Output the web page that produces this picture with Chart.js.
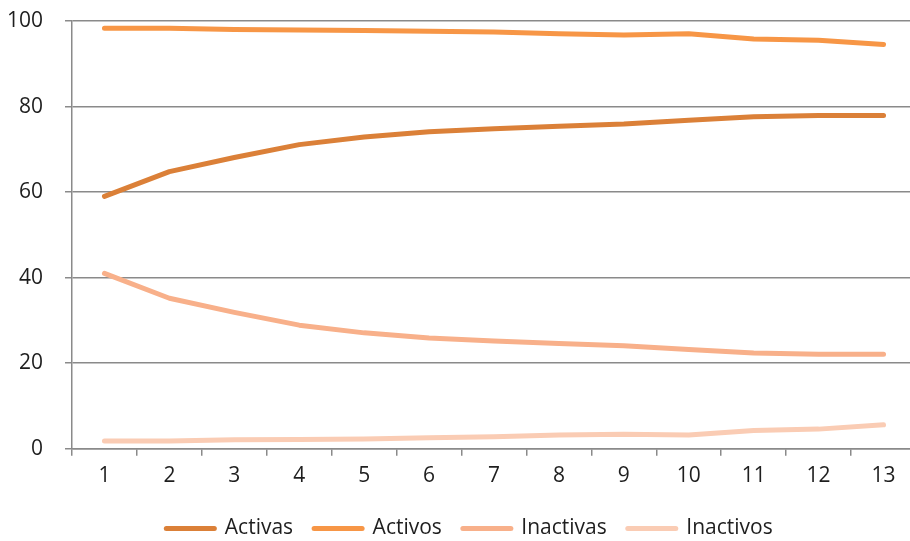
<!DOCTYPE html>
<html>
<head>
<meta charset="utf-8">
<script src="https://cdn.jsdelivr.net/npm/chart.js@4/dist/chart.umd.min.js"></script>
<style>
  html, body { margin: 0; padding: 0; background: #fff; overflow: hidden; }
  #wrap { width: 916px; height: 549px; position: relative; }
</style>
</head>
<body>
<div id="wrap"><canvas id="chart"></canvas></div>
<script>
// Periods on the horizontal axis
const periods = ['1','2','3','4','5','6','7','8','9','10','11','12','13'];

// Shares (%) per group
const activas   = [59.0, 64.8, 68.1, 71.1, 72.9, 74.1, 74.8, 75.4, 75.9, 76.8, 77.6, 77.9, 77.9];
const activos   = [98.3, 98.3, 98.0, 97.9, 97.8, 97.6, 97.4, 97.0, 96.7, 97.0, 95.8, 95.5, 94.5];
const inactivas = [41.0, 35.2, 31.9, 28.9, 27.1, 25.9, 25.2, 24.6, 24.1, 23.2, 22.4, 22.1, 22.1];
const inactivos = [1.8, 1.8, 2.1, 2.2, 2.3, 2.6, 2.8, 3.2, 3.4, 3.2, 4.3, 4.6, 5.6];

const seriesNames = ['Activas', 'Activos', 'Inactivas', 'Inactivos'];
const seriesColors = ['#DB8038', '#F79646', '#F8B08A', '#FACCB4'];
const seriesData = [activas, activos, inactivas, inactivos];

const gridColor = '#8a8a8a';
const textColor = '#1e1e1e';
const fontFamily = '"Open Sans", "DejaVu Sans", sans-serif';

// Nudge the bottom legend a little to the right of the canvas centre
const legendShift = {
  id: 'legendShift',
  afterLayout(chart) {
    if (chart.legend) {
      chart.legend.left += 8;
      chart.legend.right += 8;
    }
  }
};

new Chart(document.getElementById('chart'), {
  type: 'line',
  data: {
    labels: periods,
    datasets: seriesData.map((values, i) => ({
      label: seriesNames[i],
      data: values,
      borderColor: seriesColors[i],
      backgroundColor: seriesColors[i],
      borderWidth: 5,
      borderCapStyle: 'round',
      borderJoinStyle: 'round',
      pointRadius: 0,
      tension: 0,
      fill: false
    }))
  },
  plugins: [legendShift],
  options: {
    responsive: true,
    maintainAspectRatio: false,
    animation: false,
    layout: { padding: { top: 21, left: 7, right: 0, bottom: 0 } },
    plugins: {
      tooltip: { enabled: false },
      legend: {
        position: 'bottom',
        labels: {
          color: textColor,
          font: { family: fontFamily, size: 21 },
          usePointStyle: true,
          pointStyle: 'line',
          pointStyleWidth: 48,
          boxHeight: 5,
          padding: 21,
          generateLabels(chart) {
            return chart.data.datasets.map((ds, i) => ({
              text: ds.label,
              fillStyle: ds.borderColor,
              strokeStyle: ds.borderColor,
              lineWidth: 5,
              lineCap: 'round',
              pointStyle: 'line',
              hidden: false,
              datasetIndex: i,
              fontColor: textColor
            }));
          }
        }
      }
    },
    scales: {
      x: {
        offset: true,
        grid: {
          offset: true,
          drawOnChartArea: false,
          drawTicks: true,
          tickLength: 7,
          color: gridColor,
          lineWidth: 1.5
        },
        border: { display: true, color: gridColor, width: 1.5 },
        ticks: {
          color: textColor,
          font: { family: fontFamily, size: 21 },
          padding: 8,
          maxRotation: 0,
          autoSkip: false
        }
      },
      y: {
        min: 0,
        max: 100,
        afterFit(scale) {
          scale.width = 65;
          scale.paddingTop = 13;
          scale.paddingBottom = 13;
        },
        grid: {
          color: gridColor,
          lineWidth: 1.5,
          drawTicks: true,
          tickLength: 7
        },
        border: { display: true, color: gridColor, width: 1.5 },
        ticks: {
          stepSize: 20,
          color: textColor,
          font: { family: fontFamily, size: 21 },
          padding: 22
        }
      }
    }
  }
});
</script>
</body>
</html>
